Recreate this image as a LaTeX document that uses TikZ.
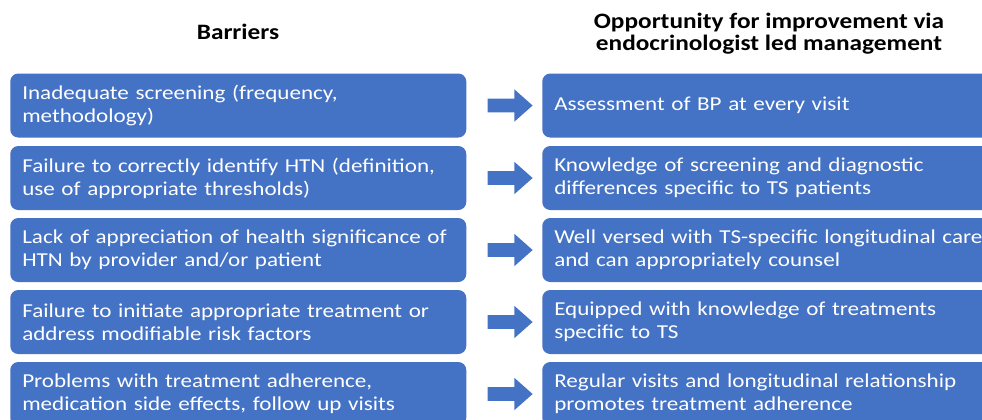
\documentclass[tikz,border=0pt]{standalone}
\usepackage{fontspec}
\setmainfont{Carlito}[FakeStretch=1.15]
\newfontfamily\boxfont{Carlito}[FakeStretch=1.17]
\usetikzlibrary{shapes.arrows, positioning, calc}
\definecolor{boxblue}{HTML}{4472C4}

\begin{document}
\begin{tikzpicture}[x=0.75pt, y=-0.75pt,
  bar/.style={fill=boxblue, rounded corners=6pt, text=white, align=left,
    anchor=west, minimum height=48pt, text width=324pt, inner xsep=9pt,
    font=\boxfont\fontsize{14.8}{17.3}\selectfont},
  opp/.style={bar, text width=400pt},
  goarrow/.style={single arrow, fill=boxblue, inner sep=4.9pt,
    single arrow head extend=7pt, single arrow tip angle=83,
    minimum height=33.75pt},
  heading/.style={font=\bfseries\fontsize{16.5}{16.5}\selectfont, align=center}]
  \useasboundingbox (0,0) rectangle (982,419);
  \node[heading] (hbar) at (238,32) {Barriers};
  \node[heading] (hopp) at (769,34) {Opportunity for improvement via\\endocrinologist led management};
  \foreach \i/\yc/\btext/\otext in {
      1/105.5/{Inadequate screening (frequency,\\methodology)}/{Assessment of BP at every visit},
      2/178/{Failure to correctly identify HTN (definition,\\use of appropriate thresholds)}/{Knowledge of screening and diagnostic\\differences specific to TS patients},
      3/250/{Lack of appreciation of health significance of\\HTN by provider and/or patient}/{Well versed with TS-specific longitudinal care\\and can appropriately counsel},
      4/322/{Failure to initiate appropriate treatment or\\address modifiable risk factors}/{Equipped with knowledge of treatments\\specific to TS},
      5/394/{Problems with treatment adherence,\\medication side effects, follow up visits}/{Regular visits and longitudinal relationship\\promotes treatment adherence}} {
    \node[bar] (b\i) at (10,\yc) {\btext};
    \node[opp] (o\i) at (542,\yc) {\otext};
    \node[goarrow] (a\i) at ($(b\i.east)!0.5!(o\i.west)+(2,0)$) {};
  }
\end{tikzpicture}
\end{document}
